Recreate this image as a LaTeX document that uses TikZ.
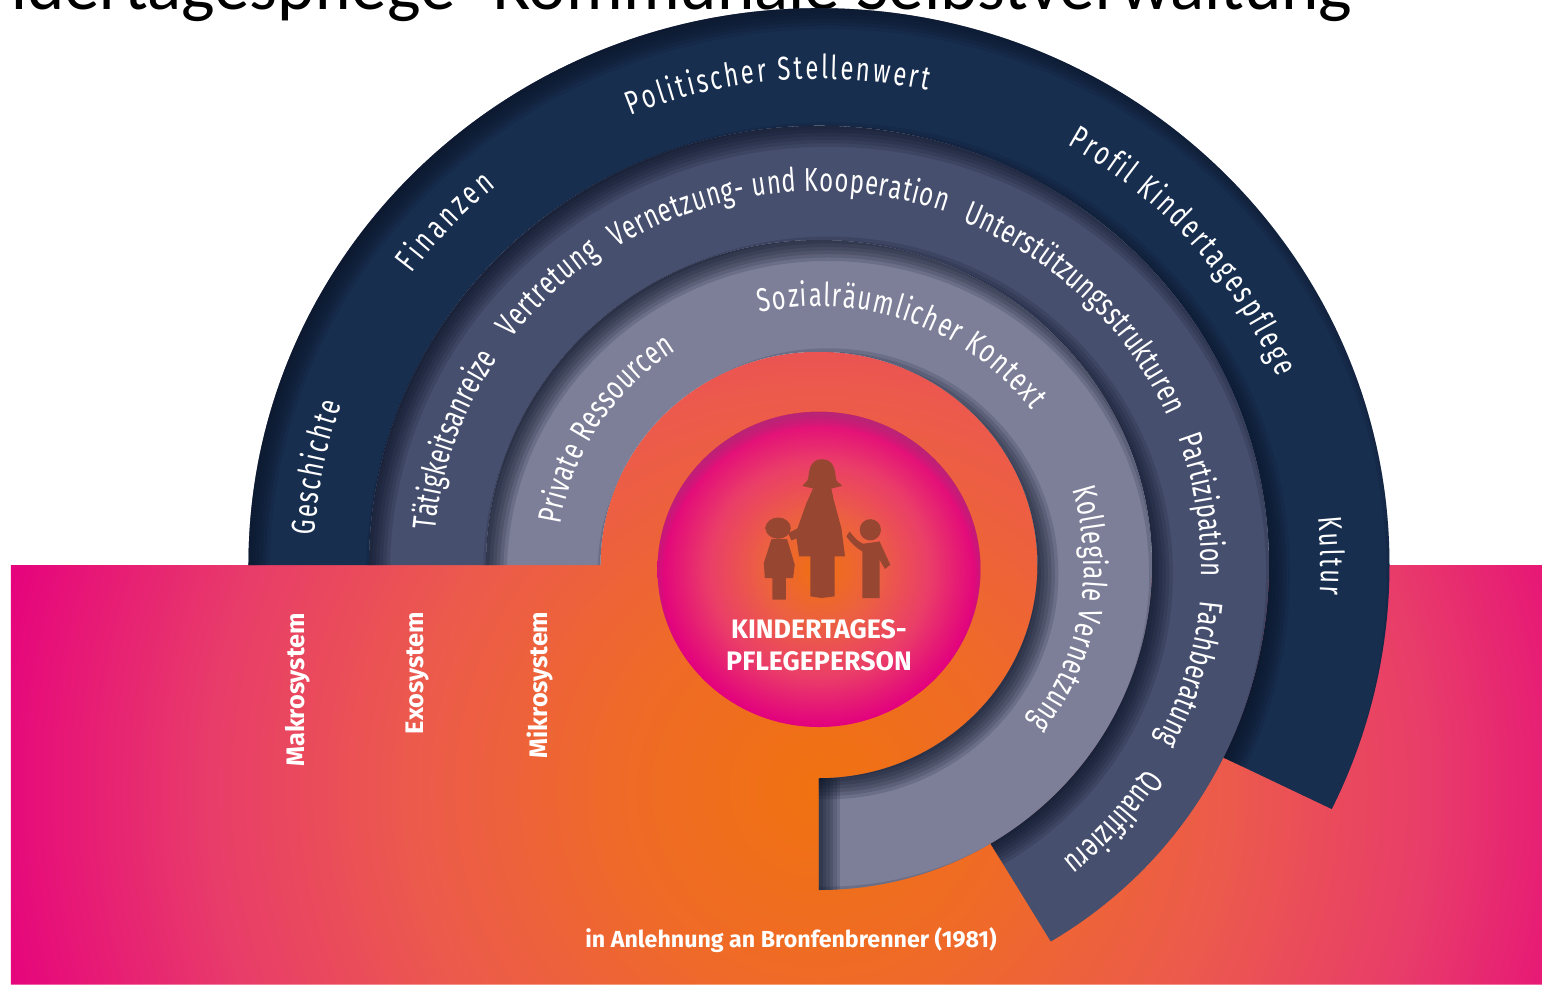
\documentclass[tikz,border=0pt]{standalone}
\usepackage{fontspec}
\usepackage{xcolor}
\usepackage{tikz}
\usetikzlibrary{calc}
\usetikzlibrary{decorations.text}
\setmainfont{Fira Sans}
\newfontfamily\titlefont{Carlito}
\newfontfamily\arcfont[FakeStretch=0.72]{Fira Sans}
\definecolor{navyring}{HTML}{182E4F}
\definecolor{slatering}{HTML}{464F6E}
\definecolor{greyring}{HTML}{7D7F98}
\definecolor{glowdark}{HTML}{0A1226}
\definecolor{figbrown}{HTML}{974731}
\pgfdeclareradialshading{bgglow}{\pgfpointorigin}{rgb(0bp)=(.941,.447,.063); rgb(6bp)=(.937,.416,.157); rgb(12bp)=(.925,.353,.298); rgb(18bp)=(.91,.235,.416); rgb(25bp)=(.902,0,.494); rgb(50bp)=(.902,0,.494)}
\pgfdeclareradialshading{kernglow}{\pgfpointorigin}{rgb(0bp)=(.941,.439,.063); rgb(9bp)=(.925,.376,.259); rgb(17bp)=(.918,.243,.408); rgb(25bp)=(.886,0,.494); rgb(50bp)=(.886,0,.494)}
\newcommand{\ringpath}[3]{(180:#1) arc[start angle=180,end angle=#3,radius=#1] -- (#3:#2) arc[start angle=#3,end angle=180,radius=#2] -- cycle}
\newcommand{\ringband}[4]{
  \fill[#1] \ringpath{#2}{#3}{#4};
  \begin{scope}
    \clip \ringpath{#2}{#3}{#4};
    \foreach \w in {2,4,...,14} {
      \draw[glowline,line width=\w pt] (9,-9) circle[radius=#2+12.7];
      \draw[glowline,line width=\w pt] (9,-9) circle[radius=#3-12.7];
    }
  \end{scope}
}
\newcommand{\arclabel}[4]{
  \path[decorate,decoration={text along path,text color=white,text align=fit to path,text={|\arcfont\fontsize{9.4}{11}\selectfont|#4}}]
    (#2:#1) arc[start angle=#2,end angle=#3,radius=#1];
}
\begin{document}
\begin{tikzpicture}[x=0.01cm,y=0.01cm]
  \tikzstyle{glowline}=[glowdark,opacity=.15]
  \tikzstyle{syslabel}=[text=white,font=\bfseries\fontsize{7.2}{9}\selectfont,rotate=90,inner sep=0pt]
  \tikzstyle{kernlabel}=[text=white,font=\bfseries\fontsize{7.6}{9}\selectfont,inner sep=0pt]
  \useasboundingbox (-819,-419) rectangle (723,565);
  \fill[white] (-819,-419) rectangle (723,565);
  \node[font=\titlefont\fontsize{20.2}{24}\selectfont,anchor=base east,inner sep=0pt] (titel) at (534,556) {Kindertagespflege- Kommunale Selbstverwaltung};

  \begin{scope}[yscale=.976]
    \begin{scope}
      \clip (-808,0) -- (-218.5,0) arc[start angle=180,end angle=0,radius=218.5] -- (723,0) -- (723,-430) -- (-808,-430) -- cycle;
      \shade[shading=bgglow] (0,-230) circle[radius=850];
    \end{scope}
    \ringband{navyring}{570.5}{450}{-26}
    \ringband{slatering}{450}{333}{-59}
    \ringband{greyring}{333}{218.5}{-90}
    \begin{scope}
      \clip \ringpath{333}{218.5}{-90};
      \foreach \w in {2,4,...,12} {
        \draw[glowline,line width=\w pt] (0,-218.5) -- (0,-333);
      }
    \end{scope}

    \arclabel{505}{176.6}{161}{Geschichte}
    \arclabel{505}{143.7}{129.8}{Finanzen}
    \arclabel{498}{112.3}{77.4}{Politischer Stellenwert}
    \arclabel{497}{60}{22.7}{Profil Kindertagespflege}
    \arclabel{502}{5.6}{-3.5}{Kultur}
    \arclabel{385}{174.7}{146.6}{Tätigkeitsanreize}
    \arclabel{385}{143}{124.6}{Vertretung}
    \arclabel{383}{122}{70.7}{Vernetzung- und Kooperation}
    \arclabel{380}{67.8}{23.6}{Unterstützungsstrukturen}
    \arclabel{382}{20}{-1.8}{Partizipation}
    \arclabel{383}{-5.4}{-27.7}{Fachberatung}
    \arclabel{388}{-32.5}{-50.3}{Qualifizierung}
    \arclabel{262}{171}{123}{Private Ressourcen}
    \arclabel{265}{102.9}{36.7}{Sozialräumlicher Kontext}
    \arclabel{265}{17}{-37.6}{Kollegiale Vernetzung}

    \shade[shading=kernglow] (0,-4.5) circle[radius=161.5];
    \begin{scope}
      \clip (0,-4.5) circle[radius=161.5];
      \foreach \w in {1,...,8} {
        \draw[magenta!60!black,opacity=.1,line width=\w pt] (0,-14) circle[radius=170];
      }
    \end{scope}
  \end{scope}

  \begin{scope}[shift={(-169,165)},x=0.00333cm,y=-0.00333cm]
    \fill[figbrown] (517,178) .. controls (485,178) and (478,205) .. (476,232) .. controls (474,248) and (462,250) .. (458,258) -- (490,266)
      -- (470,310) -- (438,400) -- (448,470) -- (482,470) -- (482,590) -- (515,595) -- (555,590) -- (555,470) -- (586,470) -- (575,385) -- (552,300) -- (545,266)
      -- (578,258) .. controls (572,250) and (558,248) .. (558,232) .. controls (556,205) and (549,178) .. (517,178) -- cycle;
    \fill[figbrown] (385,385) ellipse (38 and 32);
    \fill[figbrown] (345,385) -- (360,365) -- (365,400) -- cycle;
    \fill[figbrown] (365,418) -- (412,418) -- (435,495) -- (430,535) -- (408,535) -- (408,600) -- (368,600) -- (368,535) -- (345,535) -- (342,490) -- cycle;
    \fill[figbrown] (415,400) -- (445,385) -- (450,412) -- (425,422) -- cycle;
    \fill[figbrown] (662,390) circle (32);
    \fill[figbrown] (600,395) .. controls (615,415) and (625,425) .. (640,432) -- (690,425) -- (722,495) -- (706,508) -- (690,480) -- (690,595) -- (638,595) -- (638,455) .. controls (620,445) and (605,430) .. (590,410) -- cycle;
  \end{scope}

  \node[kernlabel] (kern1) at (0,-64) {KINDERTAGES-};
  \node[kernlabel] (kern2) at (0,-96) {PFLEGEPERSON};
  \node[syslabel] (makro) at (-521,-125) {Makrosystem};
  \node[syslabel] (exo) at (-401,-108) {Exosystem};
  \node[syslabel] (mikro) at (-279,-120) {Mikrosystem};
  \node[kernlabel,font=\bfseries\fontsize{6.6}{8}\selectfont] (quelle) at (-28,-375) {in Anlehnung an Bronfenbrenner (1981)};
\end{tikzpicture}
\end{document}
